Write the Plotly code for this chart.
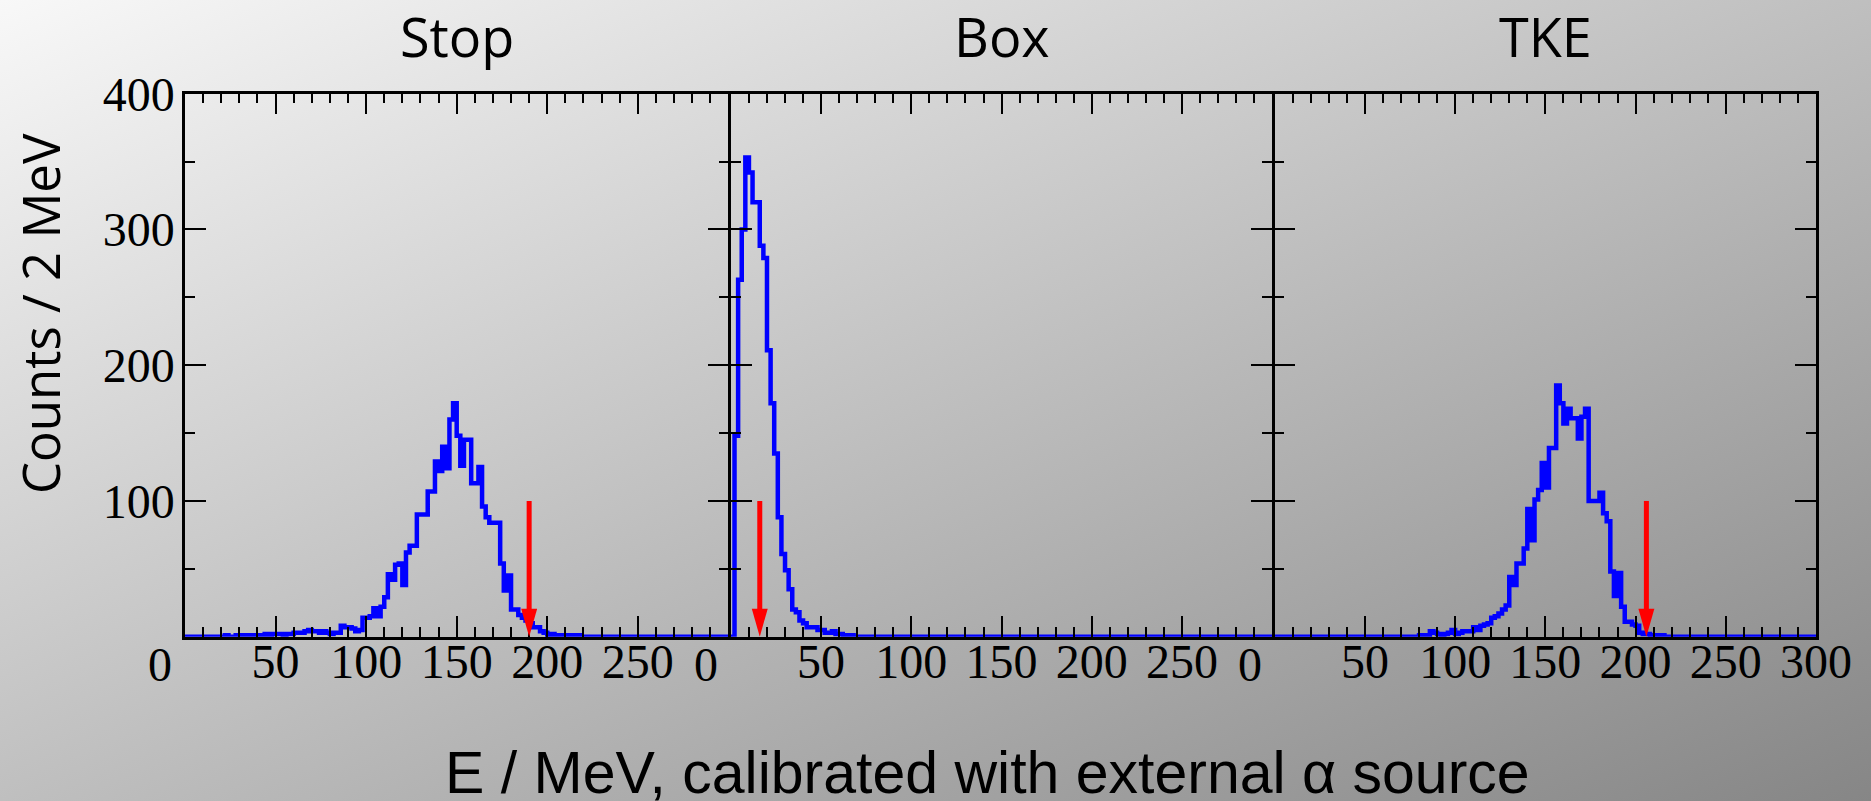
import base64
import plotly.graph_objects as go

# ---------------------------------------------------------------- data
BIN_WIDTH = 2          # MeV per bin
E_MAX = 300            # upper edge of the energy axis (MeV)
Y_MAX = 400

panel_titles = ["Stop", "Box", "TKE"]

# counts per 2 MeV bin, starting at the given lower bin edge (MeV)
stop_first_edge = 20
stop_counts = [
    0, 1, 0, 0, 1, 1, 1, 0, 1, 1,
    1, 1, 2, 1, 2, 2, 2, 1, 2, 2,
    3, 3, 3, 4, 5, 4, 4, 3, 4, 3,
    2, 3, 3, 8, 7, 7, 6, 4, 5, 14,
    14, 15, 21, 15, 22, 29, 46, 42, 53, 54,
    38, 62, 67, 67, 90, 90, 90, 107, 107, 129,
    122, 140, 124, 160, 172, 148, 126, 145, 145, 113,
    113, 125, 96, 88, 84, 84, 84, 54, 34, 45,
    20, 20, 16, 14, 12, 10, 7, 7, 4, 3,
    1, 2, 1, 1, 0, 1, 1, 0, 1, 0,
]

box_first_edge = 0
box_counts = [
    0, 148, 263, 300, 353, 342, 320, 320, 288, 279,
    211, 172, 135, 88, 61, 49, 35, 20, 18, 12,
    10, 7, 7, 7, 5, 5, 3, 3, 4, 2,
    2, 1, 0, 1, 0,
]

tke_first_edge = 80
tke_counts = [
    1, 1, 0, 4, 3, 2, 1, 2, 3, 5,
    2, 3, 4, 4, 4, 7, 5, 8, 9, 10,
    14, 15, 17, 20, 23, 44, 38, 54, 54, 65,
    94, 71, 101, 108, 128, 110, 139, 139, 185, 172,
    157, 168, 161, 161, 146, 162, 168, 100, 100, 100,
    106, 91, 85, 48, 30, 47, 22, 11, 11, 9,
    8, 3, 2, 2, 1, 1, 0, 1,
]

# selection thresholds marked with arrows (MeV) and the arrow start height
cut_energies = [190, 16, 206]
arrow_top = 100

x_tick_values = [[50, 100, 150, 200, 250],
                 [50, 100, 150, 200, 250],
                 [50, 100, 150, 200, 250, 300]]
y_tick_values = [100, 200, 300, 400]

x_title = "E / MeV, calibrated with external \u03b1 source"
y_title = "Counts / 2 MeV"

# ---------------------------------------------------------------- layout geometry (pixels)
W, H = 1871, 801
LINE_W = 2.5
panel_left = [185.0, 728.4 + LINE_W, 1272.2 + LINE_W]
panel_right = [728.4, 1272.2, 1816.0]
plot_top, plot_bottom = 93.7, 636.7

def px_x(p):
    return p / W

def px_y(p):
    return 1 - p / H

y_domain = [px_y(plot_bottom), px_y(plot_top)]

def step_outline(first_edge, counts):
    """Full 0..E_MAX histogram outline for an hv step line."""
    n_bins = E_MAX // BIN_WIDTH
    full = [0] * n_bins
    start = first_edge // BIN_WIDTH
    for i, c in enumerate(counts):
        full[start + i] = c
    xs = [i * BIN_WIDTH for i in range(n_bins)] + [E_MAX]
    ys = full + [full[-1]]
    return xs, ys

histograms = [
    step_outline(stop_first_edge, stop_counts),
    step_outline(box_first_edge, box_counts),
    step_outline(tke_first_edge, tke_counts),
]

fig = go.Figure()

BLUE = "#0000ff"
RED = "#ff0000"
tick_font = dict(family="Liberation Serif", size=48, color="black")

for i, (xs, ys) in enumerate(histograms):
    xa = "x" if i == 0 else f"x{i + 1}"
    ya = "y" if i == 0 else f"y{i + 1}"
    fig.add_trace(go.Scatter(
        x=xs, y=ys, mode="lines", line=dict(color=BLUE, width=4.5, shape="hv"),
        xaxis=xa, yaxis=ya, showlegend=False, hoverinfo="skip",
    ))

axis_common = dict(
    showline=True, linecolor="black", linewidth=LINE_W, mirror="allticks",
    ticks="inside", tickcolor="black", tickwidth=2,
    showgrid=False, zeroline=False, fixedrange=True, automargin=False,
)

for i in range(3):
    suffix = "" if i == 0 else str(i + 1)
    fig.layout[f"xaxis{suffix}"] = dict(
        axis_common,
        domain=[px_x(panel_left[i]), px_x(panel_right[i])],
        range=[0, E_MAX], anchor=f"y{suffix}",
        tickmode="array", tickvals=x_tick_values[i],
        ticklen=21, tickfont=tick_font, ticklabelstandoff=-19,
        minor=dict(tickmode="linear", tick0=0, dtick=10, ticks="inside",
                   ticklen=10, tickwidth=2, tickcolor="black"),
    )
    fig.layout[f"yaxis{suffix}"] = dict(
        axis_common,
        domain=y_domain, range=[0, Y_MAX], anchor=f"x{suffix}",
        tickmode="array", tickvals=y_tick_values,
        ticklen=21, tickfont=tick_font, ticklabelstandoff=-2,
        showticklabels=(i == 0),
        minor=dict(tickmode="array", tickvals=[50, 150, 250, 350], ticks="inside",
                   ticklen=10, tickwidth=2, tickcolor="black"),
    )

# red arrows marking the thresholds
px_per_mev = (panel_right[0] - panel_left[0]) / E_MAX
px_per_count = (plot_bottom - plot_top) / Y_MAX
head_half_width = 8.0 / px_per_mev
head_length = 28.0 / px_per_count

shapes = []
for i, cut in enumerate(cut_energies):
    xr = "x" if i == 0 else f"x{i + 1}"
    yr = "y" if i == 0 else f"y{i + 1}"
    shapes.append(dict(type="line", xref=xr, yref=yr, x0=cut, x1=cut,
                       y0=arrow_top, y1=head_length * 0.9,
                       line=dict(color=RED, width=5)))
    shapes.append(dict(
        type="path", xref=xr, yref=yr,
        path=(f"M {cut - head_half_width} {head_length} "
              f"L {cut + head_half_width} {head_length} L {cut} 0 Z"),
        fillcolor=RED, line=dict(color=RED, width=0),
    ))

annotations = []
title_font = dict(family="Open Sans", size=54, color="black")
for i, t in enumerate(panel_titles):
    annotations.append(dict(
        text=t, xref="paper", yref="paper",
        x=px_x((panel_left[i] + panel_right[i]) / 2), y=px_y(36),
        xanchor="center", yanchor="middle", showarrow=False, font=title_font,
    ))
    # the "0" label sits a little left of the panel's lower-left corner
    annotations.append(dict(
        text="0", xref="x" if i == 0 else f"x{i + 1}",
        yref="paper", x=0, y=px_y(664), xshift=-25,
        xanchor="center", yanchor="middle", showarrow=False, font=tick_font,
    ))

annotations.append(dict(
    text=y_title, xref="paper", yref="paper", x=px_x(40), y=px_y(314),
    textangle=-90, xanchor="center", yanchor="middle", showarrow=False,
    font=dict(family="Open Sans", size=51, color="black"),
))
annotations.append(dict(
    text=x_title, xref="paper", yref="paper", x=px_x(988), y=px_y(773),
    xanchor="center", yanchor="middle", showarrow=False,
    font=dict(family="Liberation Sans", size=59, color="black"),
))

# diagonal grey gradient behind the whole canvas
svg = (
    f'<svg xmlns="http://www.w3.org/2000/svg" width="{W}" height="{H}" '
    f'preserveAspectRatio="none">'
    '<defs><linearGradient id="g" x1="0" y1="0" x2="1" y2="1">'
    '<stop offset="0" stop-color="#f8f8f8"/>'
    '<stop offset="1" stop-color="#868686"/>'
    '</linearGradient></defs>'
    f'<rect width="{W}" height="{H}" fill="url(#g)"/></svg>'
)
bg_src = "data:image/svg+xml;base64," + base64.b64encode(svg.encode()).decode()

fig.update_layout(
    width=W, height=H,
    margin=dict(l=0, r=0, t=0, b=0, pad=0, autoexpand=False),
    paper_bgcolor="#bfbfbf", plot_bgcolor="rgba(0,0,0,0)",
    shapes=shapes, annotations=annotations,
    images=[dict(source=bg_src, xref="paper", yref="paper", x=0, y=1,
                 sizex=1, sizey=1, xanchor="left", yanchor="top",
                 sizing="stretch", layer="below")],
)

fig.write_html("out.html", config={"displayModeBar": False})
